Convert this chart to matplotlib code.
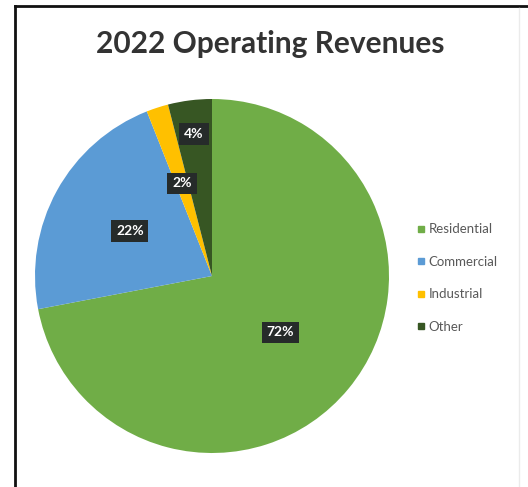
import matplotlib.pyplot as plt
from matplotlib.lines import Line2D
import numpy as np

plt.rcParams['font.family'] = ['Lato', 'DejaVu Sans']

# 2022 operating revenues by customer class (percent)
categories = ['Residential', 'Commercial', 'Industrial', 'Other']
shares = [72, 22, 2, 4]
colors = ['#70AD47', '#5B9BD5', '#FFC000', '#375623']
label_dist = [0.50, 0.53, 0.55, 0.81]

W, H = 528, 487
fig = plt.figure(figsize=(W / 100, H / 100), dpi=100)
fig.patch.set_facecolor('white')

# pie axes: centre (212, 276) px, radius 177 px
cx, cy, r = 212, 276, 177
ax = fig.add_axes([(cx - r) / W, (H - cy - r) / H, 2 * r / W, 2 * r / H])
wedges, _ = ax.pie(shares, colors=colors, startangle=90, counterclock=False,
                   radius=1.0, wedgeprops=dict(linewidth=0))
ax.set_xlim(-1, 1)
ax.set_ylim(-1, 1)
ax.set_aspect('equal')
ax.axis('off')

# percentage labels on dark boxes
for w, val, d in zip(wedges, shares, label_dist):
    mid = np.deg2rad((w.theta1 + w.theta2) / 2)
    ax.text(d * np.cos(mid), d * np.sin(mid), f'{val}%', ha='center', va='center',
            fontsize=10, fontweight='bold', color='white',
            bbox=dict(boxstyle='square,pad=0.35', fc='#262B2A', ec='none'))

fig.text(270 / W, 1 - 44 / H, '2022 Operating Revenues', ha='center', va='center',
         fontsize=21.5, fontweight='bold', color='#333333')

handles = [Line2D([], [], marker='s', linestyle='none', markersize=5,
                  markerfacecolor=c, markeredgecolor=c) for c in colors]
fig.legend(handles, categories, loc='center left', bbox_to_anchor=(410 / W, 1 - 278 / H),
           frameon=False, fontsize=9.5, labelcolor='#595959', handletextpad=0.2,
           handlelength=0.8, labelspacing=1.55, borderaxespad=0)

# outer frame
fig.add_artist(Line2D([15 / W, 15 / W], [0, 1 - 6 / H], transform=fig.transFigure,
                      color='#111111', linewidth=2))
fig.add_artist(Line2D([15 / W, 1], [1 - 6 / H, 1 - 6 / H], transform=fig.transFigure,
                      color='#111111', linewidth=2))
fig.add_artist(Line2D([519 / W, 519 / W], [0, 1 - 8 / H], transform=fig.transFigure,
                      color='#EBEBEB', linewidth=1))

fig.savefig('out.png', dpi=100, facecolor='white')
